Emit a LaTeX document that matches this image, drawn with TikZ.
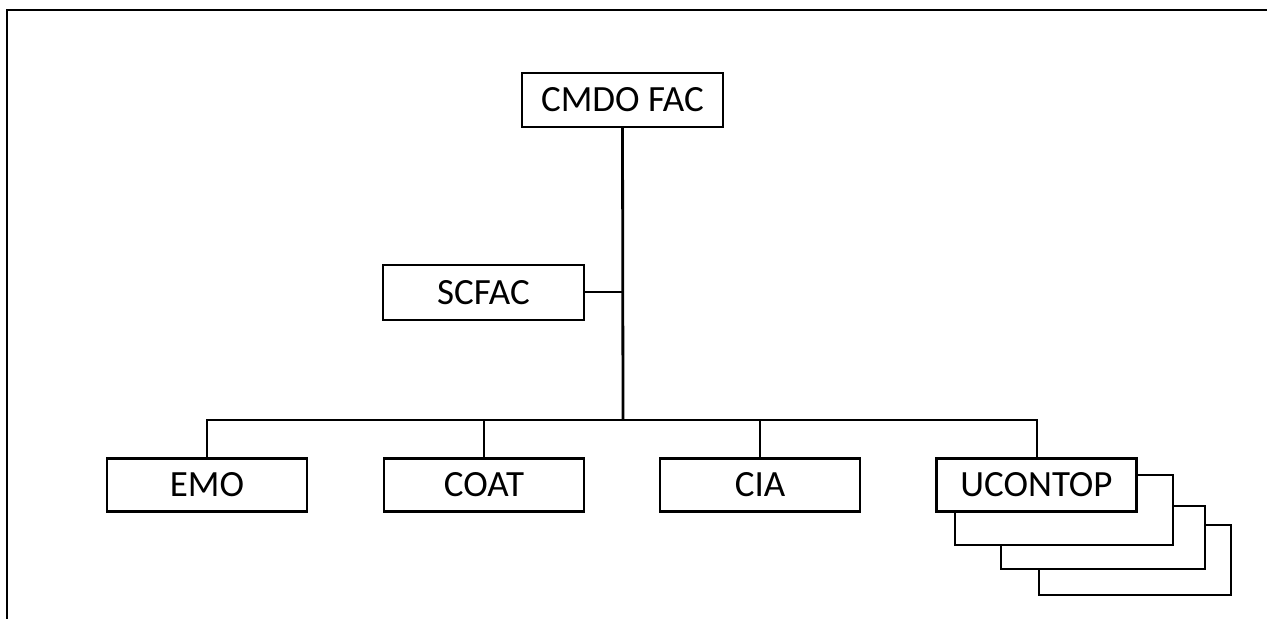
\documentclass[tikz,border=0pt]{standalone}
\usepackage{fontspec}
\setmainfont{Carlito}
\usetikzlibrary{positioning}

\tikzset{
  unit/.style={draw, line width=1.2pt, fill=white, font=\fontsize{18.5}{22}\selectfont, inner sep=2pt},
  stackbox/.style={draw, line width=0.6pt, fill=white, inner sep=0pt},
  link/.style={line width=1pt},
  trunk/.style={line width=1.4pt}
}

\begin{document}
\begin{tikzpicture}[x=0.5pt, y=-0.5pt]
        \useasboundingbox (0,0) rectangle (1267,619);
        % frame
        \draw[line width=1.4pt] (7,619) -- (7,10) -- (1267,10);

        % top
        \node[unit, minimum width=100.5pt, minimum height=27pt] (cmdo) at (622.5,100) {CMDO FAC};
        \node[unit, minimum width=100.5pt, minimum height=27.5pt] (scfac) at (483.5,292.5) {SCFAC};
        \coordinate (bus) at (623,420);

        % stacked boxes behind UCONTOP
        \node[stackbox, minimum width=96pt, minimum height=35pt] (stackC) at (1135,560) {};
        \node[stackbox, minimum width=102pt, minimum height=31.5pt] (stackB) at (1103,537.5) {};
        \node[stackbox, minimum width=109pt, minimum height=35pt] (stackA) at (1064,510) {};

        % bottom row
        \node[unit, minimum width=100pt, minimum height=26.5pt] (emo) at (207,485) {EMO};
        \node[unit, minimum width=100pt, minimum height=26.5pt] (coat) at (484,485) {COAT};
        \node[unit, minimum width=100pt, minimum height=26.5pt] (cia) at (760,485) {CIA};
        \node[unit, minimum width=100pt, minimum height=26.5pt] (ucontop) at (1036.5,485) {UCONTOP};

        % connectors
        \draw[trunk] (cmdo.south) -- (bus);
        \draw[link] (scfac.east) -- (scfac.east -| cmdo.south);
        \draw[link] (emo.north) |- (bus);
        \draw[link] (coat.north) |- (bus);
        \draw[link] (cia.north) |- (bus);
        \draw[link] (ucontop.north) |- (bus);
    \end{tikzpicture}
\end{document}
